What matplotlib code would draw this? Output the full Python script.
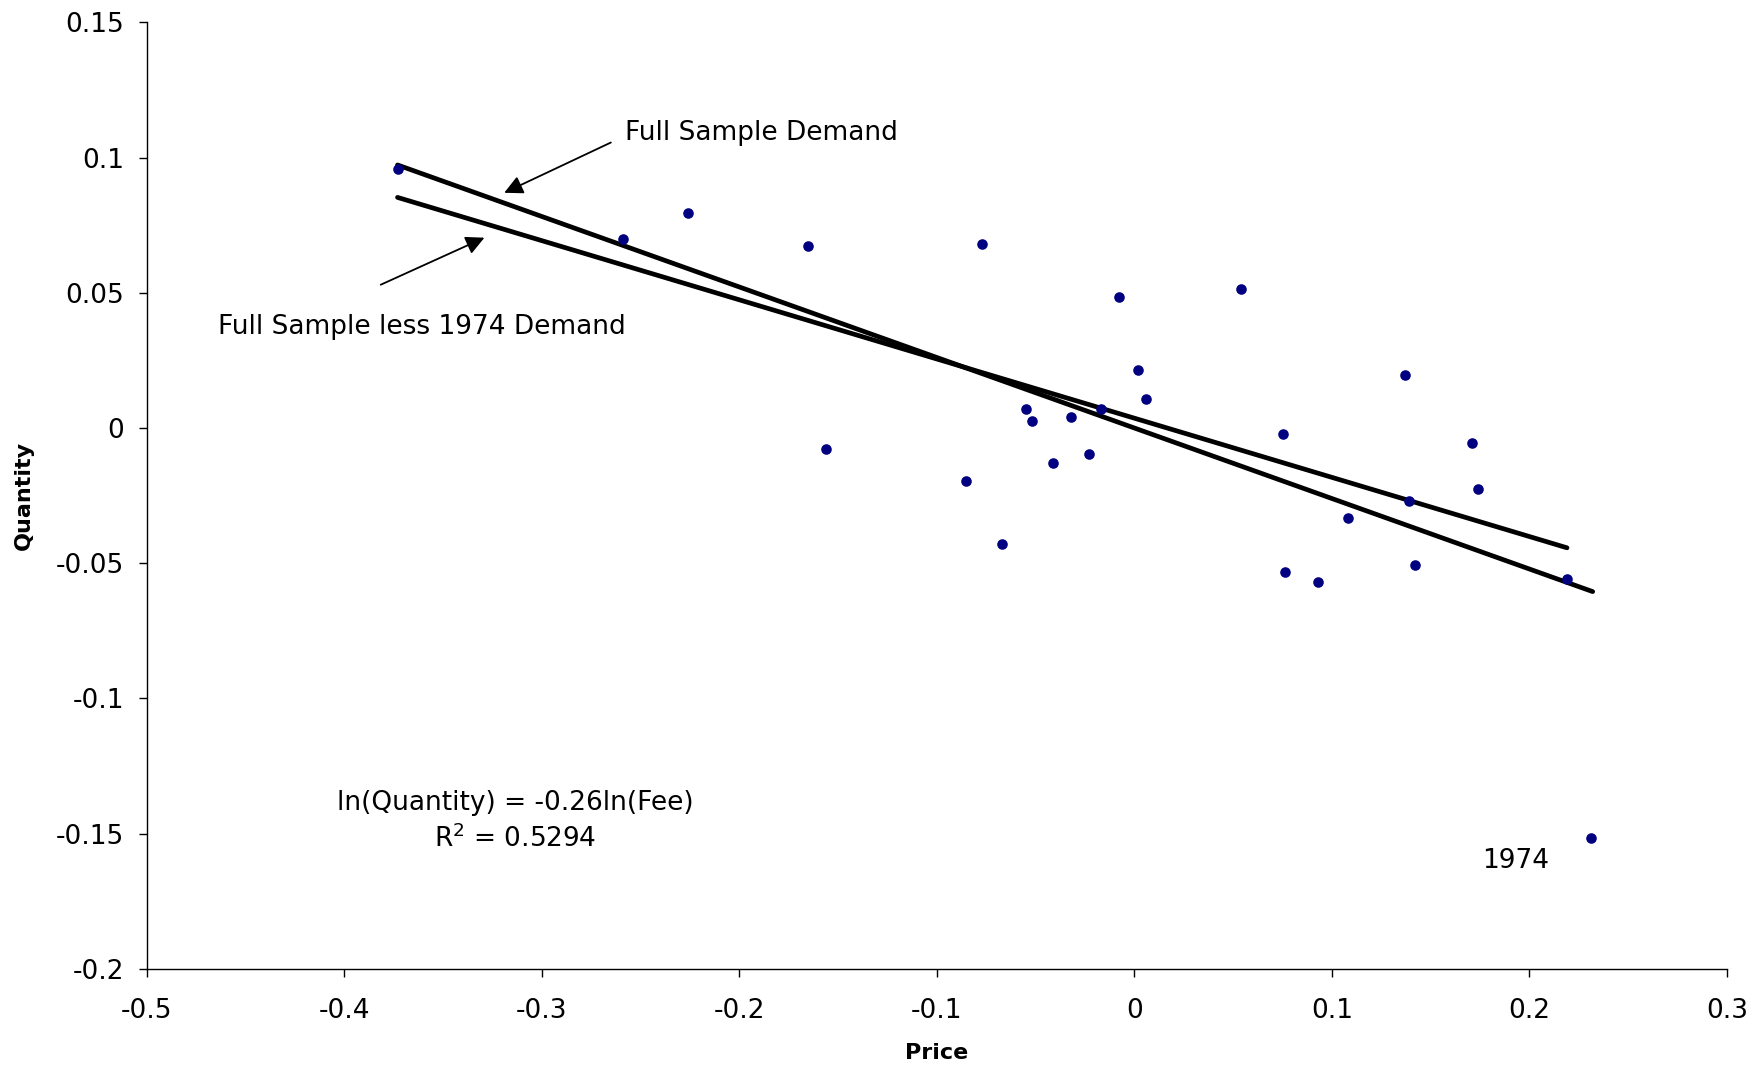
import numpy as np
import matplotlib
matplotlib.use("Agg")
import matplotlib.pyplot as plt

plt.rcParams["font.family"] = ["DejaVu Sans"]
plt.rcParams["axes.unicode_minus"] = False

# observed points (price, quantity)
price = [-0.373, -0.259, -0.226, -0.165, -0.156, -0.077, -0.085, -0.067,
         -0.055, -0.052, -0.041, -0.032, -0.023, -0.017, -0.008, 0.002,
         0.006, 0.054, 0.075, 0.076, 0.093, 0.108, 0.137, 0.139, 0.142,
         0.171, 0.174, 0.219, 0.231]
quantity = [0.0957, 0.070, 0.0795, 0.0675, -0.0079, 0.068, -0.0195, -0.043,
            0.007, 0.0025, -0.0128, 0.0041, -0.0095, 0.007, 0.0485, 0.0215,
            0.0108, 0.0514, -0.0021, -0.0534, -0.057, -0.0331, 0.0195,
            -0.0269, -0.0505, -0.0054, -0.0224, -0.0559, -0.1516]

# demand lines (end points)
full_x = [-0.373, 0.232]
full_y = [0.0973, -0.0605]
less_x = [-0.373, 0.219]
less_y = [0.0853, -0.0443]

xticks = [-0.5, -0.4, -0.3, -0.2, -0.1, 0, 0.1, 0.2, 0.3]
xlabels = ["-0.5", "-0.4", "-0.3", "-0.2", "-0.1", "0", "0.1", "0.2", "0.3"]
yticks = [-0.2, -0.15, -0.1, -0.05, 0, 0.05, 0.1, 0.15]
ylabels = ["-0.2", "-0.15", "-0.1", "-0.05", "0", "0.05", "0.1", "0.15"]

fig = plt.figure(figsize=(17.56, 10.7), dpi=100)
ax = fig.add_axes([0.0835, 0.0946, 0.9, 0.8844])

ax.plot(full_x, full_y, color="black", lw=3.4, solid_capstyle="round", zorder=2)
ax.plot(less_x, less_y, color="black", lw=3.4, solid_capstyle="round", zorder=2)
ax.scatter(price, quantity, s=58, color="#000080", zorder=3, linewidths=0)

ax.set_xlim(-0.5, 0.3)
ax.set_ylim(-0.2, 0.15)
ax.set_xticks(xticks)
ax.set_xticklabels(xlabels)
ax.set_yticks(yticks)
ax.set_yticklabels(ylabels)
ax.tick_params(direction="out", length=6, width=1, labelsize=19)
ax.tick_params(axis="x", pad=15)
ax.tick_params(axis="y", pad=10)
for s in ["top", "right"]:
    ax.spines[s].set_visible(False)
for s in ["left", "bottom"]:
    ax.spines[s].set_linewidth(1)

ax.set_xlabel("Price", fontsize=16, fontweight="bold", labelpad=14)
ax.set_ylabel("Quantity", fontsize=16, fontweight="bold", labelpad=16)

arrow = dict(arrowstyle="-|>", color="black", lw=1.3, mutation_scale=28,
             shrinkA=0, shrinkB=0)
ax.text(-0.258, 0.109, "Full Sample Demand", fontsize=19, va="center", ha="left")
ax.annotate("", xy=(-0.319, 0.087), xytext=(-0.265, 0.1056), arrowprops=arrow)
ax.annotate("", xy=(-0.329, 0.0704), xytext=(-0.3815, 0.053), arrowprops=arrow)
ax.text(-0.464, 0.0373, "Full Sample less 1974 Demand", fontsize=19,
        va="center", ha="left")

ax.text(-0.3135, -0.1387, "ln(Quantity) = -0.26ln(Fee)", fontsize=19,
        ha="center", va="center")
ax.text(-0.3135, -0.152, "R$^2$ = 0.5294", fontsize=19,
        ha="center", va="center")
ax.text(0.1928, -0.16, "1974", fontsize=19, ha="center", va="center")

fig.savefig("out.png", dpi=100)
